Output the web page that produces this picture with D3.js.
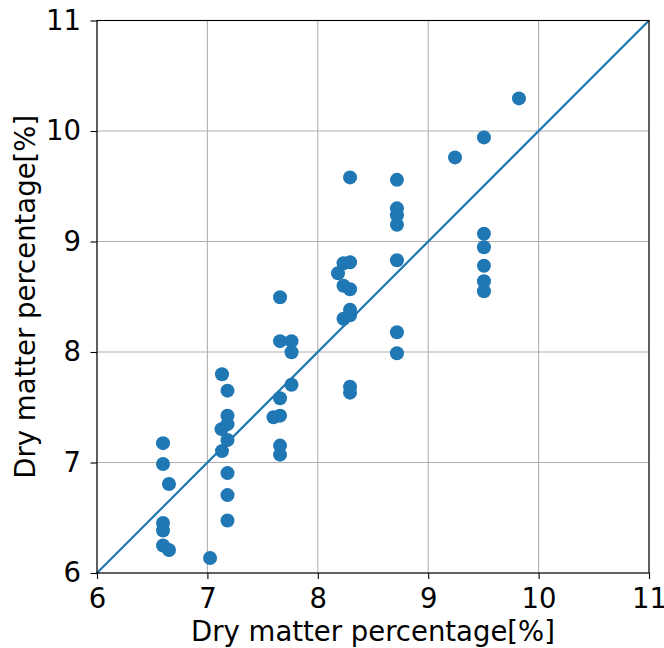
<!DOCTYPE html>
<html>
<head>
<meta charset="utf-8">
<script src="https://cdn.jsdelivr.net/npm/d3@7"></script>
<style>
  html, body { margin: 0; padding: 0; background: #fff; }
  svg { display: block; }
  text { font-family: "DejaVu Sans", sans-serif; fill: #000; }
</style>
</head>
<body>
<svg id="chart" width="664" height="648"></svg>
<script>
const xVals = [6.598, 6.598, 6.652, 6.598, 6.598, 6.598, 6.652, 7.024,
  7.132, 7.182, 7.182, 7.182, 7.128, 7.182, 7.132, 7.182, 7.182, 7.182,
  7.658, 7.658, 7.762, 7.762, 7.762, 7.658, 7.658, 7.599, 7.658, 7.658,
  8.292, 8.183, 8.233, 8.292, 8.233, 8.292, 8.292, 8.233, 8.292, 8.292, 8.292,
  8.717, 8.717, 8.717, 8.717, 8.717, 8.717, 8.717,
  9.243, 9.505, 9.822, 9.505, 9.505, 9.505, 9.505, 9.505];
const yVals = [7.175, 6.986, 6.805, 6.452, 6.384, 6.249, 6.208, 6.136,
  7.799, 7.650, 7.424, 7.347, 7.302, 7.203, 7.103, 6.904, 6.705, 6.475,
  8.495, 8.098, 8.098, 7.998, 7.704, 7.582, 7.424, 7.410, 7.153, 7.071,
  9.580, 8.712, 8.803, 8.812, 8.599, 8.568, 8.382, 8.301, 8.333, 7.686, 7.632,
  9.558, 9.300, 9.237, 9.151, 8.830, 8.179, 7.989,
  9.761, 9.942, 10.295, 9.070, 8.948, 8.780, 8.640, 8.550];
const ticks = [6, 7, 8, 9, 10, 11];
const lineX = [6, 11];
const lineY = [6, 11];
const xLabel = "Dry matter percentage[%]";
const yLabel = "Dry matter percentage[%]";

const svg = d3.select("#chart");
const L = 97, R = 649, T = 20.5, B = 573;
const x = d3.scaleLinear().domain([6, 11]).range([L, R]);
const y = d3.scaleLinear().domain([6, 11]).range([B, T]);
const blue = "#1f77b4";
const FS = 27.5;

// grid
const g = svg.append("g");
g.selectAll("line.gx").data(ticks).enter().append("line")
  .attr("x1", d => x(d)).attr("x2", d => x(d)).attr("y1", T).attr("y2", B)
  .attr("stroke", "#b0b0b0").attr("stroke-width", 1.1);
g.selectAll("line.gy").data(ticks).enter().append("line")
  .attr("y1", d => y(d)).attr("y2", d => y(d)).attr("x1", L).attr("x2", R)
  .attr("stroke", "#b0b0b0").attr("stroke-width", 1.1);

// points
const data = xVals.map((v, i) => [v, yVals[i]]);
svg.append("g").selectAll("circle").data(data).enter().append("circle")
  .attr("cx", d => x(d[0])).attr("cy", d => y(d[1])).attr("r", 7)
  .attr("fill", blue);

// identity line
svg.append("line")
  .attr("x1", x(lineX[0])).attr("y1", y(lineY[0]))
  .attr("x2", x(lineX[1])).attr("y2", y(lineY[1]))
  .attr("stroke", blue).attr("stroke-width", 2.2);

// axes
const xAxis = d3.axisBottom(x).tickValues(ticks).tickSize(6).tickPadding(9).tickFormat(d3.format("d"));
const yAxis = d3.axisLeft(y).tickValues(ticks).tickSize(6.5).tickPadding(9.5).tickFormat(d3.format("d"));
const gx = svg.append("g").attr("transform", `translate(0,${B})`).call(xAxis);
const gy = svg.append("g").attr("transform", `translate(${L},0)`).call(yAxis);
[gx, gy].forEach(a => {
  a.select(".domain").remove();
  a.selectAll("line").attr("stroke", "#000").attr("stroke-width", 1.1);
  a.selectAll("text").attr("font-size", FS).attr("font-family", "DejaVu Sans").attr("fill", "#000");
});

// frame
svg.append("rect").attr("x", L).attr("y", T).attr("width", R - L).attr("height", B - T)
  .attr("fill", "none").attr("stroke", "#000").attr("stroke-width", 1.1);

// labels
svg.append("text").attr("x", (L + R) / 2).attr("y", 641).attr("text-anchor", "middle")
  .attr("font-size", FS).text(xLabel);
svg.append("text").attr("transform", `translate(35,${(T + B) / 2}) rotate(-90)`)
  .attr("text-anchor", "middle").attr("font-size", FS).text(yLabel);
</script>
</body>
</html>
